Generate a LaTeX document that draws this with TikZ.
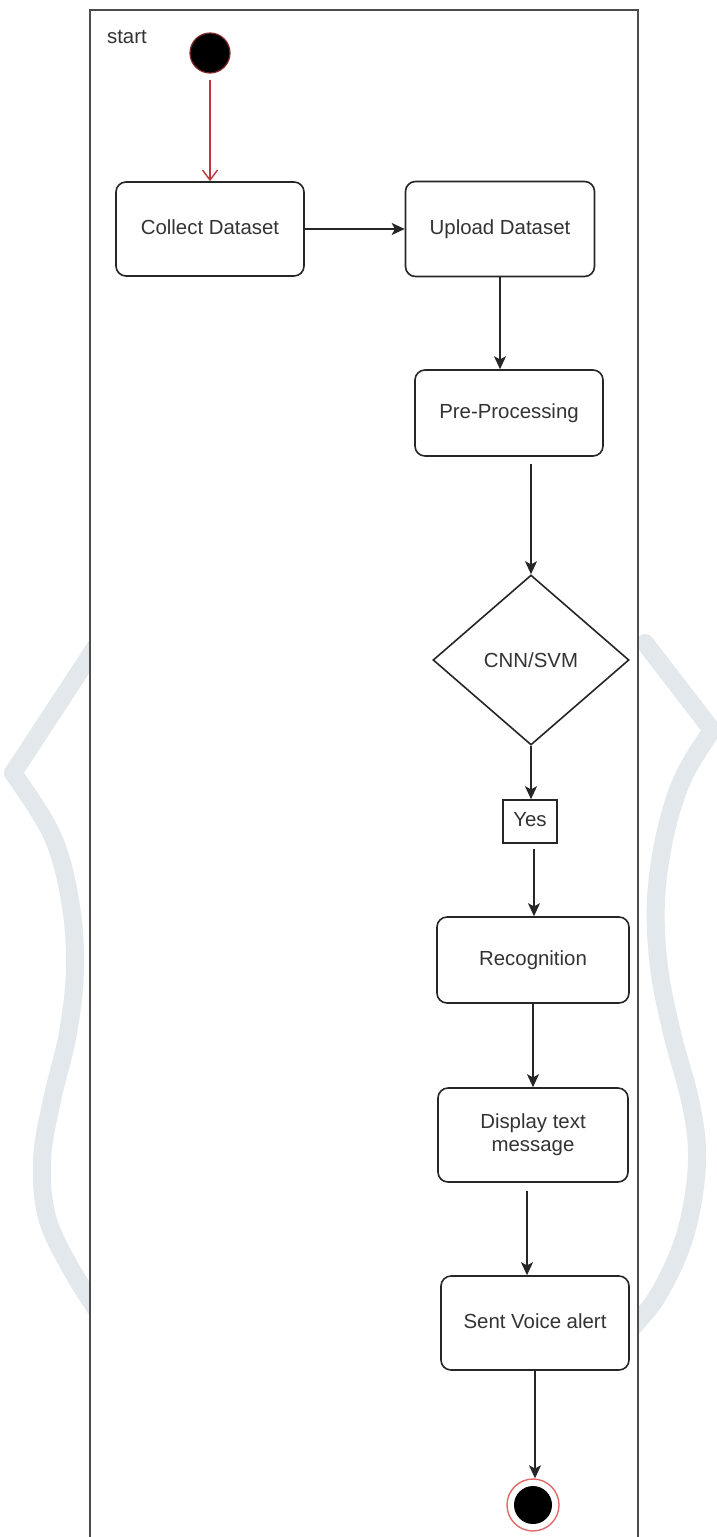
\documentclass[tikz,border=0pt]{standalone}
\usepackage{fontspec}
\setmainfont{Liberation Sans}
\usetikzlibrary{shapes.geometric,arrows.meta,calc}
\definecolor{txt}{HTML}{333333}
\definecolor{wm}{HTML}{E2E8EB}
\definecolor{redline}{HTML}{B83A3A}
\definecolor{endring}{HTML}{E06A6A}
\newcommand{\lblfont}{\fontsize{10.2}{11.6}\selectfont}
\tikzset{
  act/.style={draw=black!85, line width=0.8pt, rounded corners=5pt, fill=white,
    minimum width=94pt, minimum height=47pt, align=center, font=\lblfont, text=txt, inner sep=2pt},
  oneline/.style={text height=7.4pt, text depth=2.2pt},
  conn/.style={draw=black!85, line width=0.8pt, -{Stealth[length=6.5pt,width=6pt,inset=1.6pt]}},
  wmark/.style={draw=wm, line width=9pt, line cap=round, line join=round}
}
\begin{document}
\begin{tikzpicture}[x=0.5pt,y=-0.5pt]
\useasboundingbox (0,0) rectangle (717,1537);
\fill[white] (0,0) rectangle (717,1537);
% watermark
\draw[wmark] (97,645) -- (13,773);
\draw[wmark] plot[smooth,tension=0.6] coordinates {(13,773) (52,835) (70,900) (75,967) (68,1033) (52,1100) (42,1160) (47,1217) (70,1267) (100,1315)};
\draw[wmark] (645,643) -- (712,730);
\draw[wmark] plot[smooth,tension=0.6] coordinates {(712,730) (683,778) (665,835) (656,900) (659,967) (672,1033) (690,1100) (697,1150) (693,1200) (680,1250) (655,1300) (625,1335)};
% frame
\fill[white] (90,10) rectangle (638,1540);
\draw[draw=black!70, line width=0.6pt] (90,1540) -- (90,10) -- (638,10) -- (638,1540);
\node[font=\lblfont, text=txt, anchor=west] (lbl) at (100,37) {start};
% nodes
\node[circle, fill=black, draw=redline!70!black, line width=0.6pt, minimum size=20pt, inner sep=0pt] (st) at (210,53) {};
\node[act, oneline] (collect) at (210,229) {Collect Dataset};
\node[act, oneline, minimum width=94.5pt, minimum height=47.5pt] (upload) at (500,229) {Upload Dataset};
\node[act, oneline, minimum height=43pt] (pre) at (509,413) {Pre-Processing};
\node[diamond, draw=black!85, line width=0.8pt, fill=white, minimum width=98pt, minimum height=85pt, inner sep=0pt, font=\lblfont, text=txt] (dia) at (531,660) {CNN/SVM};
\node[draw=black!85, line width=0.8pt, fill=white, minimum width=27pt, minimum height=21.5pt, inner sep=1pt, font=\lblfont, text=txt, oneline] (yes) at (530,821.5) {Yes};
\node[act, oneline, minimum width=96pt, minimum height=43pt] (rec) at (533,960) {Recognition};
\node[act, minimum width=95pt] (disp) at (533,1135) {Display text\\message};
\node[act, oneline] (sent) at (535,1323) {Sent Voice alert};
\node[circle, draw=endring, line width=0.7pt, fill=white, minimum size=26pt, inner sep=0pt] (en) at (533,1505) {};
\node[circle, fill=black, minimum size=19pt, inner sep=0pt] (enin) at (en.center) {};
% helper coordinates for off-centre connectors
\coordinate (yesout) at ($(yes.south)+(4,0)$);
\coordinate (dispout) at ($(disp.south)+(-6,0)$);
% connectors
\draw[draw=redline, line width=0.7pt, -{Straight Barb[length=5pt,width=7.5pt]}, shorten <=3pt] (st.south) -- (collect.north);
\draw[conn] (collect.east) -- (collect.east -| upload.west);
\draw[conn] (upload.south) -- (upload.south |- pre.north);
\draw[conn, shorten <=3.5pt] (pre.south -| dia.north) -- (dia.north);
\draw[conn] (dia.south) -- (dia.south |- yes.north);
\draw[conn, shorten <=2.5pt] (yesout) -- (yesout |- rec.north);
\draw[conn] (rec.south) -- (disp.north);
\draw[conn, shorten <=4pt] (dispout) -- (dispout |- sent.north);
\draw[conn] (sent.south) -- (sent.south |- en.north);
\end{tikzpicture}
\end{document}
